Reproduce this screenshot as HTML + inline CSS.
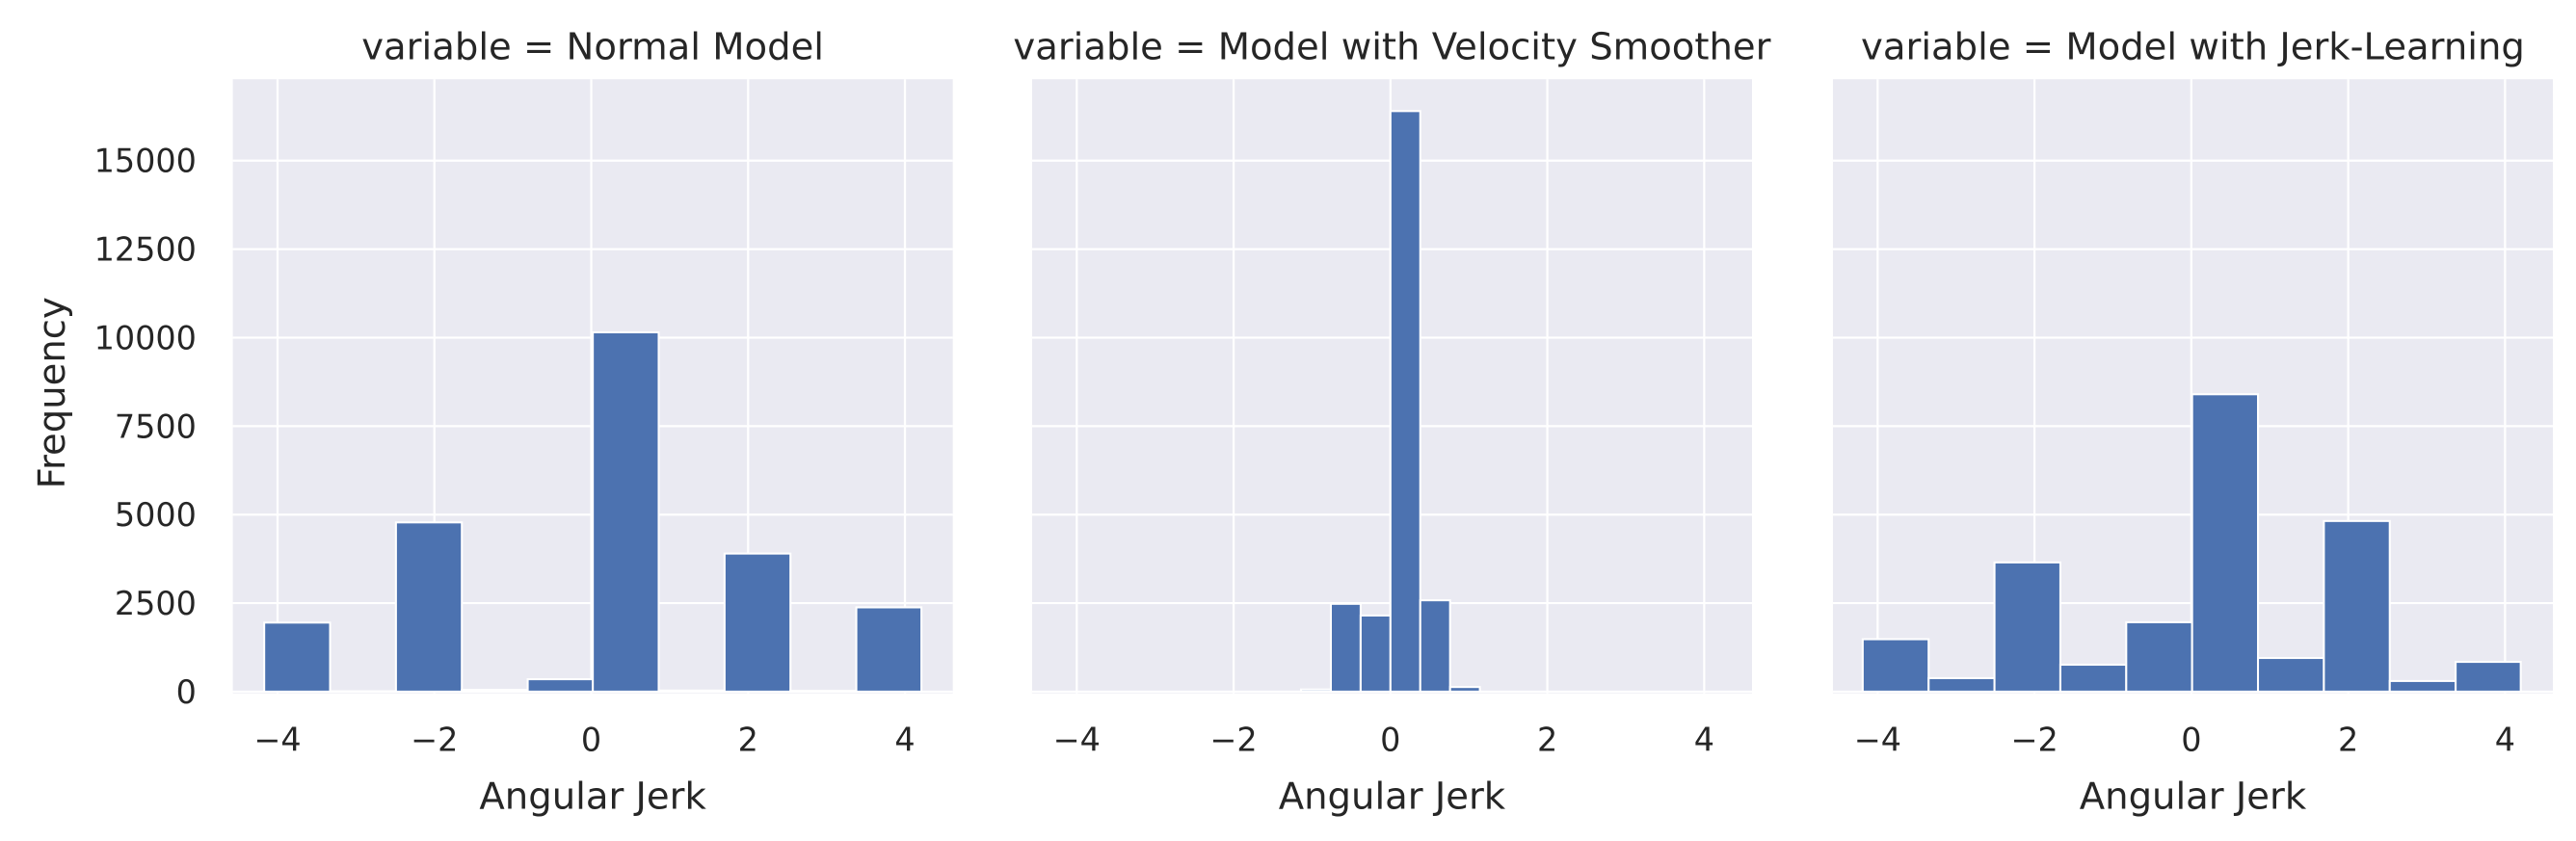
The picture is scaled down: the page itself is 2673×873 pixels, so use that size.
<!DOCTYPE html>
<html><head><meta charset="utf-8"><style>
html,body{margin:0;padding:0;background:#fff;}
svg{display:block;font-family:"DejaVu Sans","Liberation Sans",sans-serif;}
</style></head><body>
<svg id="chart" width="2673" height="873" viewBox="0 0 1560 509.5" preserveAspectRatio="none" xmlns="http://www.w3.org/2000/svg"></svg>
<script>
const panelTitles = ["variable = Normal Model","variable = Model with Velocity Smoother","variable = Model with Jerk-Learning"];
const normalEdges = [-4.17,-3.33,-2.49,-1.65,-0.81,0.02,0.86,1.70,2.54,3.38,4.21];
const normalCounts = [1950,10,4780,50,350,10150,30,3900,20,2380];
const smootherEdges = [-1.14,-0.76,-0.38,0,0.38,0.76,1.14];
const smootherCounts = [60,2480,2150,16400,2580,130];
const jerkEdges = [-4.19,-3.35,-2.51,-1.67,-0.83,0.01,0.85,1.69,2.53,3.37,4.20];
const jerkCounts = [1480,380,3650,760,1960,8400,950,4820,300,840];
const xTicks = [-4,-2,0,2,4];
const yTicks = [0,2500,5000,7500,10000,12500,15000];

const NS="http://www.w3.org/2000/svg";
const svg=document.getElementById('chart');
function mk(tag,attrs,parent){const e=document.createElementNS(NS,tag);for(const k in attrs)e.setAttribute(k,attrs[k]);(parent||svg).appendChild(e);return e;}
const panels=[{x0:141,edges:normalEdges,counts:normalCounts},{x0:625,edges:smootherEdges,counts:smootherCounts},{x0:1110,edges:jerkEdges,counts:jerkCounts}];
const W=436, plotTop=48, plotBottom=420;
const xmin=-4.57, xmax=4.61, ymax=17300;
panels.forEach((p,i)=>{
  const g=mk('g',{});
  
  
  const sx=v=>p.x0+(v-xmin)/(xmax-xmin)*W;
  const sy=v=>plotBottom-1-v/ymax*(plotBottom-1-plotTop);
  const bg=mk('rect',{x:p.x0,y:plotTop,width:W,height:plotBottom-plotTop,fill:'#EAEAF2'},g);
  
  
  xTicks.forEach(t=>{
    const l=mk('line',{x1:sx(t),x2:sx(t),y1:plotTop,y2:plotBottom,stroke:'#fff','stroke-width':1.3},g);
    
    
    const tx=mk('text',{x:sx(t),y:455,'text-anchor':'middle','font-size':19.5,fill:'#262626'},g);
    tx.textContent=(t<0?'\u2212'+(-t):t);
    
    
  });
  yTicks.forEach(t=>{
    const l=mk('line',{x1:p.x0,x2:p.x0+W,y1:sy(t),y2:sy(t),stroke:'#fff','stroke-width':1.3},g);
    
    
    if(i===0){
      const tx=mk('text',{x:p.x0-22,y:sy(t)+7,'text-anchor':'end','font-size':19.5,fill:'#262626'},g);
      tx.textContent=t;
      
      
    }
  });
  p.counts.forEach((c,j)=>{
    const x1=sx(p.edges[j]),x2=sx(p.edges[j+1]);
    const r=mk('rect',{x:x1,y:sy(c),width:x2-x1,height:sy(0)-sy(c),fill:'#4C72B0',stroke:'#fff','stroke-width':1.2},g);
    
    
  });
  const tt=mk('text',{x:p.x0+W/2,y:36,'text-anchor':'middle','font-size':22.5,fill:'#262626'},g);
  tt.textContent=panelTitles[i];
  
  
  const xl=mk('text',{x:p.x0+W/2,y:490,'text-anchor':'middle','font-size':22.5,fill:'#262626'},g);
  xl.textContent='Angular Jerk';
  
  
});
const yl=mk('text',{x:0,y:0,'text-anchor':'middle','font-size':22.5,fill:'#262626',transform:'translate(39,238) rotate(-90)'});
yl.textContent='Frequency';


</script>
</body></html>
